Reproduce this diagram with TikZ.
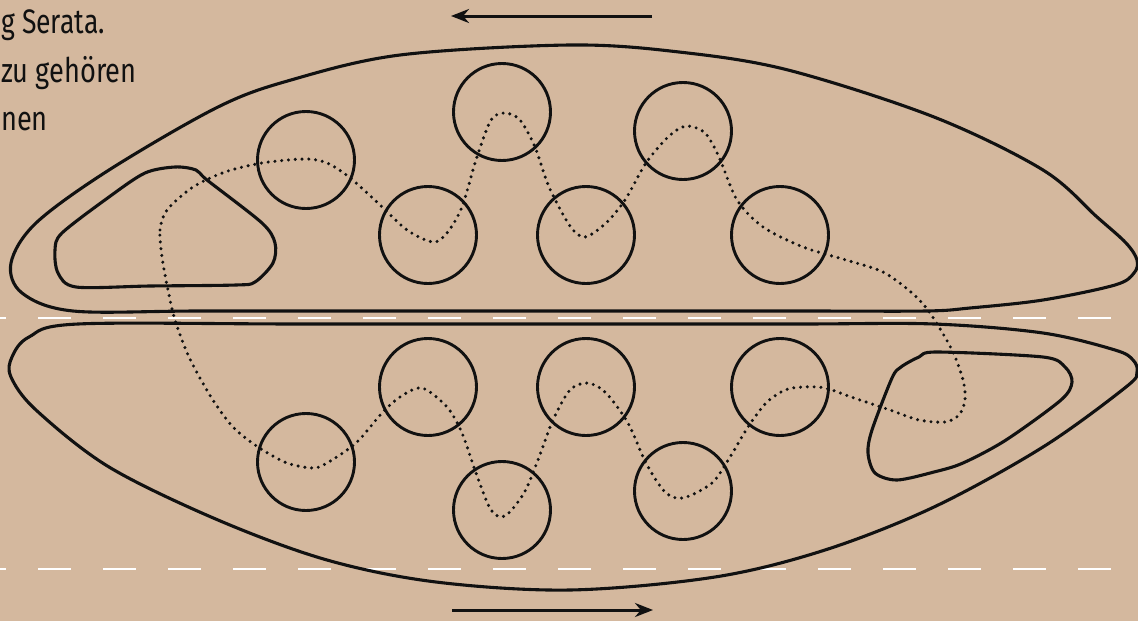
\documentclass[tikz,border=0pt]{standalone}
\usepackage{fontspec}
\newfontfamily\lblfont{Fira Sans}
\usetikzlibrary{arrows.meta}
\definecolor{bg}{RGB}{212,184,158}
\definecolor{ink}{RGB}{17,17,17}
\tikzset{
  outline/.style={draw=ink, line width=3.1pt, line join=round},
  ring/.style={circle, draw=ink, line width=2.9pt, minimum size=97pt, inner sep=0pt},
  dotpath/.style={draw=ink, line width=3.4pt, line cap=round, dash pattern=on 0pt off 6.8pt},
  lane/.style={draw=white, line width=1.5pt, dash pattern=on 32.5pt off 32.5pt, dash phase=27pt},
  flow/.style={draw=ink, line width=3pt, -{Stealth[length=18pt,width=14pt]}},
  txt/.style={anchor=base west, text=ink, font=\lblfont\fontsize{34}{40}\selectfont, inner sep=0pt}
}
\begin{document}
\begin{tikzpicture}[x=1pt, y=-1pt]
\useasboundingbox (0,0) rectangle (1138,621);
\fill[bg] (0,0) rectangle (1138,621);
\clip (0,0) rectangle (1138,621);

% lane lines
\coordinate (l1a) at (0,318); \coordinate (l1b) at (1138,318);
\coordinate (l2a) at (0,569); \coordinate (l2b) at (1138,569);
\draw[lane] (l1a) -- (l1b);
\draw[lane] (l2a) -- (l2b);

% text
\node[txt] (tx1) at (1,33) {\scalebox{0.78}[1]{g Serata.}};
\node[txt] (tx2) at (1,82) {\scalebox{0.8}[1]{zu gehören}};
\node[txt] (tx3) at (1,130) {\scalebox{0.8}[1]{nen}};

% arrows
\coordinate (ua) at (652,16); \coordinate (ub) at (451,16);
\coordinate (da) at (452,610); \coordinate (db) at (653,610);
\draw[flow] (ua) -- (ub);
\draw[flow] (da) -- (db);

% upper outer shape
\draw[outline] plot[smooth cycle, tension=0.55] coordinates {
 (570,45) (679,52) (788,70) (934,117) (1043,170) (1097,217) (1126,243) (1137,260)
 (1134,273) (1115,285) (1043,300) (970,308) (926,311) (800,311) (600,311) (400,311)
 (200,311) (73,311) (22,293) (11,263) (36,223) (109,170) (218,107) (291,80) (400,55)};

% lower outer shape
\draw[outline] plot[smooth cycle, tension=0.55] coordinates {
 (78,324) (300,324) (600,324) (800,324) (934,324) (1043,333) (1115,350) (1133,360)
 (1137,372) (1126,387) (1043,447) (934,507) (825,550) (715,577) (570,590) (436,582)
 (327,560) (218,520) (109,467) (36,410) (11,377) (12,357) (29,337)};

% upper-left inner blob
\draw[outline] plot[smooth cycle, tension=0.5] coordinates {
 (175,167) (196,170) (207,180) (262,223) (275,243) (273,263) (255,282) (236,285)
 (150,286) (76,287) (58,273) (55,250) (62,233) (109,197) (145,173)};

% lower-right inner blob
\draw[outline] plot[smooth cycle, tension=0.5] coordinates {
 (937,352) (1043,357) (1065,367) (1072,382) (1061,400) (1006,440) (963,463) (934,472)
 (897,480) (875,473) (868,453) (872,430) (892,378) (901,367) (919,357)};

% circles
\node[ring] (u1) at (306,160) {};
\node[ring] (u2) at (428,235) {};
\node[ring] (u3) at (502,112) {};
\node[ring] (u4) at (586,235) {};
\node[ring] (u5) at (683,131) {};
\node[ring] (u6) at (780,235) {};
\node[ring] (d1) at (306,462) {};
\node[ring] (d2) at (428,387) {};
\node[ring] (d3) at (502,510) {};
\node[ring] (d4) at (586,387) {};
\node[ring] (d5) at (683,491) {};
\node[ring] (d6) at (780,387) {};

% dotted route
\draw[dotpath] plot[smooth cycle, tension=0.5] coordinates {
 (162,257) (160,230) (167,210) (193,187) (225,172) (262,163) (305,159) (327,163)
 (349,177) (378,203) (407,230) (433,242) (447,233) (462,207) (476,160) (491,120)
 (505,113) (520,120) (535,147) (549,187) (570,226) (585,237) (606,223) (625,200)
 (646,163) (668,137) (686,126) (705,133) (719,157) (737,200) (763,227) (803,247)
 (846,260) (883,272) (912,293) (930,313) (952,350) (963,380) (965,400)
 (959,415) (945,422) (919,420) (890,410) (854,398) (825,388) (803,387) (785,390)
 (766,403) (748,427) (730,457) (712,483) (683,498) (665,492) (646,463) (628,423)
 (606,393) (588,383) (570,390) (553,420) (538,460) (524,493) (505,516) (491,510)
 (476,473) (462,433) (447,407) (422,388) (400,397) (382,413) (356,443) (327,463)
 (313,468) (287,463) (258,447) (233,427) (211,397) (189,357) (175,320) (168,290)};
\end{tikzpicture}
\end{document}
